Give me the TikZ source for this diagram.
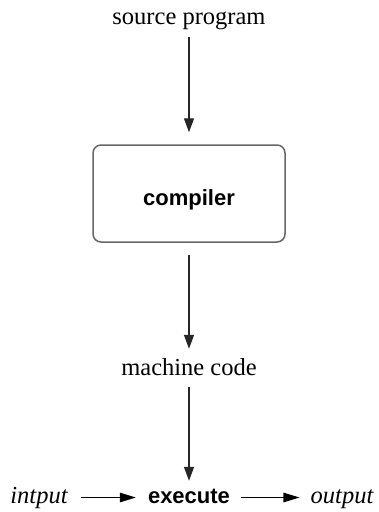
\documentclass[tikz,border=0pt]{standalone}
\usepackage{fontspec}
\setmainfont{Liberation Serif}
\newfontfamily\hsans{Liberation Sans}
\usetikzlibrary{arrows.meta}
\tikzset{
  serif/.style={inner sep=0pt, font=\fontsize{24.5}{28}\selectfont, text height=17pt, text depth=5pt},
  bold/.style={inner sep=0pt, font=\hsans\bfseries\fontsize{22}{26}\selectfont, text height=16pt, text depth=5pt},
  rowtext/.style={inner sep=0pt, text height=16pt, text depth=5pt},
  proc/.style={draw=black!60, line width=1.5pt, rounded corners=8pt, minimum width=192pt, minimum height=97pt, text height=24pt, text depth=0pt, font=\hsans\bfseries\fontsize{22}{26}\selectfont},
  varr/.style={draw=black!85, line width=1.3pt, -{Triangle[length=14pt,width=10pt]}},
  harr/.style={draw=black, line width=1.1pt, -{Triangle[length=16pt,width=9.5pt]}},
}
\begin{document}
\begin{tikzpicture}[x=1pt,y=-1pt]
\useasboundingbox (0,0) rectangle (378,512);
\node[serif, anchor=base] (src) at (189,24) {source program};
\node[proc] (comp) at (189,193.5) {compiler};
\node[serif, anchor=base] (mc) at (189,375) {machine code};
\node[bold, anchor=base] (exec) at (189,503) {execute};
\node[serif, rowtext, anchor=base, font=\itshape\fontsize{24.5}{28}\selectfont] (in) at (39,503) {intput};
\node[serif, rowtext, anchor=base, font=\itshape\fontsize{24.5}{28}\selectfont] (out) at (342,503) {output};
\draw[varr, shorten <=8pt, shorten >=12pt] (src) -- (comp);
\draw[varr, shorten <=12pt, shorten >=9pt] (comp) -- (mc);
\draw[varr, shorten <=7pt, shorten >=6pt] (mc) -- (exec);
\draw[harr, shorten <=13pt, shorten >=12pt] (in) -- (exec);
\draw[harr, shorten <=11pt, shorten >=11pt] (exec) -- (out);
\end{tikzpicture}
\end{document}
